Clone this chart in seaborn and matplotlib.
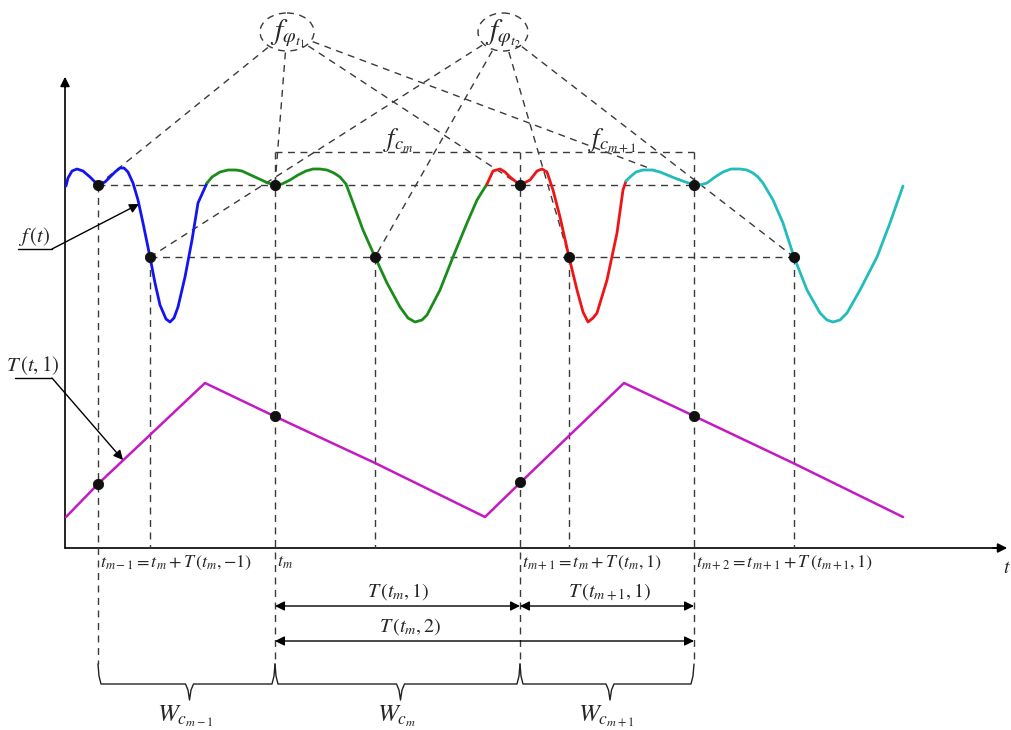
import numpy as np
import pandas as pd
import matplotlib
matplotlib.use("Agg")
import matplotlib.pyplot as plt
import seaborn as sns
from matplotlib.patches import Ellipse

# ---------------- data (schematic, pixel-like units) ----------------
blue_x = [66, 68, 72, 77, 83, 90, 98, 105, 110, 115, 120, 124, 128, 133, 138, 143, 150, 155, 160, 166, 170, 174, 178, 185, 192, 198, 207]
blue_y = [186, 178, 171, 169, 171, 177, 185, 182, 177, 172, 168, 168, 172, 183, 200, 223, 257, 283, 305, 319, 322, 318, 307, 277, 240, 203, 183]
green_x = [207, 212, 220, 228, 236, 242, 255, 268, 275, 282, 290, 298, 306, 313, 320, 327, 334, 340, 346, 352, 363, 375, 387, 400, 408, 415, 422, 427, 440, 453, 467, 477, 487]
green_y = [183, 177, 172, 170, 170, 171, 177, 183, 185, 184, 180, 175, 171, 169, 169, 170, 173, 177, 184, 200, 230, 257, 283, 307, 318, 322, 320, 315, 290, 257, 223, 200, 184]
red_x = [487, 493, 500, 505, 510, 520, 530, 537, 542, 547, 553, 560, 569, 577, 583, 588, 593, 597, 607, 617, 623, 626]
red_y = [184, 171, 169, 172, 177, 185, 180, 171, 169, 172, 190, 217, 257, 290, 312, 322, 318, 313, 280, 233, 190, 181]
cyan_x = [626, 630, 636, 643, 652, 660, 677, 694, 700, 707, 715, 723, 731, 740, 747, 753, 758, 763, 773, 783, 794, 807, 820, 827, 833, 840, 847, 860, 877, 890, 903]
cyan_y = [181, 177, 172, 170, 170, 172, 179, 185, 185, 183, 177, 172, 169, 169, 170, 173, 177, 183, 200, 223, 257, 290, 313, 320, 322, 320, 313, 290, 257, 223, 186]
T_x = [66, 98, 205, 274, 375, 485, 521, 624, 694, 793, 903]
T_y = [517, 484, 383, 416, 463, 517, 482, 383, 416, 463, 517]

t_upper = [98, 275, 520, 694]      # t_{m-1}, t_m, t_{m+1}, t_{m+2}
t_lower = [150, 375, 569, 794]     # phase-2 points
level_upper = 185
level_lower = 257
T_dot_y = [484, 416, 482, 416]

bottom_labels = [r"$t_{m-1}=t_m+T\,(t_m,{-}1)$", r"$t_m$",
                 r"$t_{m+1}=t_m+T\,(t_m,1)$", r"$t_{m+2}=t_{m+1}+T\,(t_{m+1},1)$"]
span_labels = [r"$T\,(t_m,1)$", r"$T\,(t_{m+1},1)$", r"$T\,(t_m,2)$"]
w_labels = [r"$W_{c_{m-1}}$", r"$W_{c_m}$", r"$W_{c_{m+1}}$"]

# ---------------- figure ----------------
sns.set_style("white")
plt.rcParams["mathtext.fontset"] = "stix"
plt.rcParams["font.family"] = ["STIXGeneral", "Liberation Serif", "DejaVu Serif"]

fig = plt.figure(figsize=(10.11, 7.30), dpi=100)
ax = fig.add_axes([0, 0, 1, 1])
ax.set_xlim(0, 1011)
ax.set_ylim(730, 0)
ax.axis("off")

DC = "#3a3a3a"
dash = dict(color=DC, lw=1.0, dashes=(5, 4))

# axes with arrows
ax.plot([65, 65], [548, 82], color="k", lw=1.2)
ax.plot([65, 1000], [548, 548], color="k", lw=1.2)
ax.annotate("", xy=(65, 74), xytext=(65, 90),
            arrowprops=dict(arrowstyle="-|>", color="k", lw=1.2, mutation_scale=14))
ax.annotate("", xy=(1010, 548), xytext=(990, 548),
            arrowprops=dict(arrowstyle="-|>", color="k", lw=1.2, mutation_scale=14))
ax.text(1003, 568, r"$t$", fontsize=14, ha="left", va="center")

# dashed construction lines
ax.plot([t_upper[0], t_upper[-1]], [level_upper, level_upper], **dash)
ax.plot([t_lower[0], t_lower[-1]], [level_lower, level_lower], **dash)
ax.plot([t_upper[1], t_upper[-1]], [152, 152], **dash)
ax.plot([t_upper[0], t_upper[0]], [level_upper, 664], **dash)
for x in t_upper[1:]:
    ax.plot([x, x], [152, 664], **dash)
for x in t_lower:
    ax.plot([x, x], [level_lower, 548], **dash)

# ellipses and rays
ellipses = [((287, 32), 54, 38, r"$f_{\varphi_{t_1}}$", t_upper, level_upper),
            ((503, 32), 50, 38, r"$f_{\varphi_{t_2}}$", t_lower, level_lower)]
for (cx, cy), w, h, lab, targets, lev in ellipses:
    ax.add_patch(Ellipse((cx, cy), w, h, fill=False, ec=DC, lw=1.0, ls=(0, (5, 4))))
    ax.text(cx, cy + 2, lab, fontsize=21, ha="center", va="center")
    for tx in targets:
        dx, dy = tx - cx, lev - cy
        s = 1.0 / np.sqrt((dx / (w / 2)) ** 2 + (dy / (h / 2)) ** 2)
        ax.plot([cx + dx * s * 1.08, tx], [cy + dy * s * 1.08, lev], **dash)

ax.text(383, 141, r"$f_{c_m}$", fontsize=19, ha="left", va="center")
ax.text(588, 141, r"$f_{c_{m+1}}$", fontsize=19, ha="left", va="center")

# curves via seaborn
segs = []
for name, xs, ys in [("blue", blue_x, blue_y), ("green", green_x, green_y),
                     ("red", red_x, red_y), ("cyan", cyan_x, cyan_y)]:
    segs.append(pd.DataFrame({"x": xs, "y": ys, "seg": name}))
fdf = pd.concat(segs, ignore_index=True)
pal = {"blue": "#1414f0", "green": "#1a8c1a", "red": "#f01414", "cyan": "#22bcbc"}
sns.lineplot(data=fdf, x="x", y="y", hue="seg", palette=pal, sort=False,
             estimator=None, units="seg", lw=2.0, legend=False, ax=ax)
tdf = pd.DataFrame({"x": T_x, "y": T_y})
sns.lineplot(data=tdf, x="x", y="y", sort=False, estimator=None,
             color="#c41ac4", lw=1.8, ax=ax)

ddf = pd.DataFrame({"x": t_upper + t_lower + t_upper,
                    "y": [level_upper] * 4 + [level_lower] * 4 + T_dot_y})
sns.scatterplot(data=ddf, x="x", y="y", s=55, color="#111111", edgecolor="#111111",
                zorder=5, ax=ax)
ax.set_xlim(0, 1011)
ax.set_ylim(730, 0)
ax.axis("off")

# labels with leaders
ax.text(34, 237, r"$f\,(t)$", fontsize=15, ha="center", va="center")
ax.plot([18, 52], [249, 249], color="k", lw=1.0)
ax.annotate("", xy=(139, 204), xytext=(52, 249),
            arrowprops=dict(arrowstyle="-|>", color="k", lw=1.0, mutation_scale=14,
                            shrinkA=0, shrinkB=0))
ax.text(33, 366, r"$T\,(t,1)$", fontsize=15, ha="center", va="center")
ax.plot([15, 52], [378, 378], color="k", lw=1.0)
ax.annotate("", xy=(123, 460), xytext=(52, 378),
            arrowprops=dict(arrowstyle="-|>", color="k", lw=1.0, mutation_scale=14,
                            shrinkA=0, shrinkB=0))

# bottom labels
for x, lab in zip(t_upper, bottom_labels):
    ax.text(x + 2, 563, lab, fontsize=13, ha="left", va="center")

# span arrows
spans = [(t_upper[1], t_upper[2], 606), (t_upper[2], t_upper[3], 606), (t_upper[1], t_upper[3], 641)]
for (a, b, y), lab in zip(spans, span_labels):
    ax.annotate("", xy=(b, y), xytext=(a, y),
                arrowprops=dict(arrowstyle="<|-|>", color="k", lw=1.0, mutation_scale=14,
                                shrinkA=0, shrinkB=0))
span_lab_pos = [(398, 592), (610, 592), (410, 627)]
for (x, y), lab in zip(span_lab_pos, span_labels):
    ax.text(x, y, lab, fontsize=14.5, ha="center", va="center")

# braces
for a, b, lab in zip(t_upper[:-1], t_upper[1:], w_labels):
    m = (a + b) / 2 + 3
    bx = [a, a + 1, a + 3, m - 4, m - 1.5, m, m + 1.5, m + 4, b - 3, b - 1, b]
    by = [664, 676, 684, 684, 690, 700, 690, 684, 684, 676, 664]
    ax.plot(bx, by, color="#222222", lw=1.0)
    ax.text(m - 4, 716, lab, fontsize=18, ha="center", va="center")

fig.savefig("out.png", dpi=100)
